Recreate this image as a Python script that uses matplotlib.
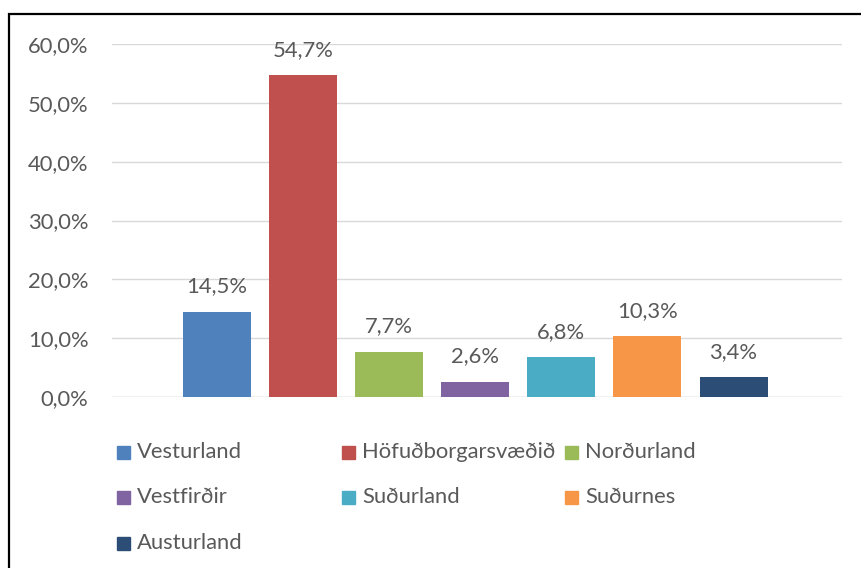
import matplotlib.pyplot as plt
from matplotlib.patches import Rectangle

# Hlutfall eftir landshlutum
regions = ['Vesturland', 'Höfuðborgarsvæðið', 'Norðurland', 'Vestfirðir',
           'Suðurland', 'Suðurnes', 'Austurland']
values = [14.5, 54.7, 7.7, 2.6, 6.8, 10.3, 3.4]
colors = ['#4F81BD', '#C0504D', '#9BBB59', '#8064A2', '#4BACC6', '#F79646', '#2C4D75']
yticks = [0, 10, 20, 30, 40, 50, 60]

plt.rcParams['font.family'] = ['Lato', 'DejaVu Sans']
txt = '#595959'
fs = 15.8

W, H = 861, 568
fig = plt.figure(figsize=(W / 100, H / 100), dpi=100)

# ramminn utan um myndina (nær út fyrir hægri og neðri brún)
fig.patches.append(Rectangle((9 / W, -0.05), 1.0, 1 - 14 / H + 0.05, transform=fig.transFigure,
                             fill=False, edgecolor='black', linewidth=1.6, zorder=0))

ax = fig.add_axes([112 / W, (H - 397) / H, 730 / W, 353 / H])
x = list(range(len(values)))
ax.bar(x, values, width=0.79, color=colors, zorder=2)
ax.set_xlim(-1.22, 7.26)
ax.set_ylim(0, 60)
ax.set_yticks(yticks)
ax.set_yticklabels([f'{t:.1f}'.replace('.', ',') + '%' for t in yticks], color=txt, fontsize=fs)
ax.tick_params(axis='y', length=0, pad=17)
ax.set_xticks([])
ax.grid(axis='y', color='#D9D9D9', linewidth=1, zorder=0)
for s in ax.spines.values():
    s.set_visible(False)
ax.axhline(0, color='#D9D9D9', linewidth=1, zorder=1)

for xi, v in zip(x, values):
    ax.annotate(f'{v:.1f}'.replace('.', ',') + '%', (xi, v), xytext=(0, 11),
                textcoords='offset points', ha='center', va='bottom',
                color=txt, fontsize=fs, annotation_clip=False)

# skýringar í þremur dálkum eins og í Excel
col_x = [117, 342, 565]
row_y = [452, 497, 543]
for i, (name, c) in enumerate(zip(regions, colors)):
    px = col_x[i % 3]
    py = row_y[i // 3]
    fig.patches.append(Rectangle((px / W, (H - py - 6.5) / H), 13 / W, 13 / H,
                                 transform=fig.transFigure, color=c))
    fig.text((px + 20) / W, (H - py) / H, name, color=txt, fontsize=fs, va='center', ha='left')

fig.savefig('out.png', dpi=100)
